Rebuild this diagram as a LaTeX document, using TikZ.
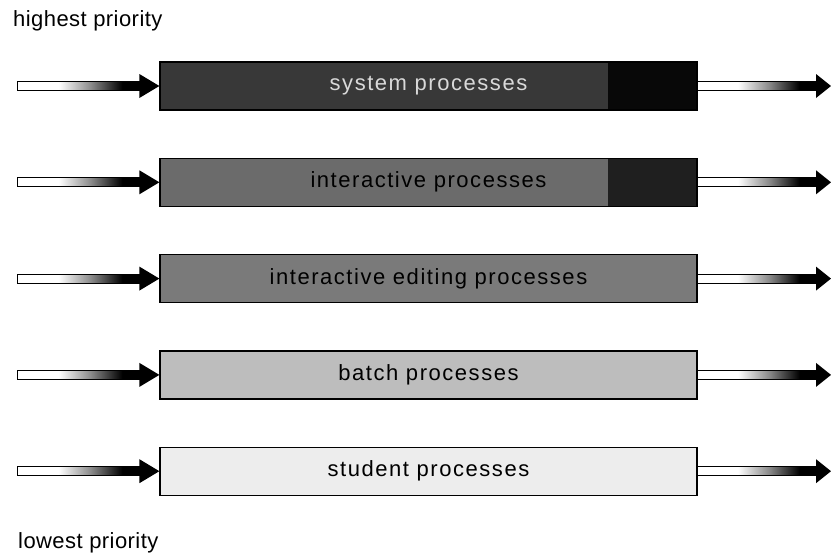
\documentclass[tikz,border=0pt]{standalone}
\usepackage{fontspec}
\setmainfont{Liberation Sans}[LetterSpace=2]
\newfontfamily\queuefont{Liberation Sans}[LetterSpace=7]
\usetikzlibrary{calc}
\pgfdeclarehorizontalshading{shaftfade}{100bp}{color(0bp)=(white); color(25bp)=(white); color(42bp)=(white); color(55bp)=(black!45); color(68bp)=(black); color(100bp)=(black)}
% shaft with fade, then solid head
\newcommand\qarrow[3]{%
  \shadedraw[shading=shaftfade, line width=1pt] ($(#1)+(0,-4.5)$) rectangle ($(#2)+(-#3,4.5)$);
  \fill ($(#2)+(-#3,-12)$) -- (#2) -- ($(#2)+(-#3,12)$) -- cycle;}

\begin{document}
\begin{tikzpicture}[x=1pt, y=-1pt,
    every node/.style={font=\fontsize{22}{26}\selectfont},
    queue/.style={draw, line width=1.2pt, minimum width=537pt, minimum height=48pt, inner sep=0pt,
      font=\fontsize{22}{26}\queuefont}]
  \useasboundingbox (0,0) rectangle (831,554);
  \node[anchor=base west, inner sep=0pt] (hi) at (13,27) {highest priority};
  \foreach \t/\fc/\dc/\tc [count=\i from 0] in
    {system processes/black!78/black!97/black!15,
     interactive processes/black!58/black!88/black,
     interactive editing processes/black!52/black!52/black,
     batch processes/black!26/black!26/black,
     student processes/black!7/black!7/black}
  {
    \pgfmathsetmacro\y{86+96.3*\i}
    \node[queue, fill=\fc, text=\tc,
      path picture={\fill[\dc] ($(path picture bounding box.north east)+(-89,0)$) rectangle (path picture bounding box.south east);}]
      (q\i) at (428.5,\y) {\t};
    \coordinate (in\i) at (17,\y);
    \coordinate (out\i) at (831,\y);
    \qarrow{in\i}{q\i.west}{20}
    \qarrow{q\i.east}{out\i}{15}
  }
  \node[anchor=base west, inner sep=0pt] (lo) at (18,548) {lowest priority};
\end{tikzpicture}
\end{document}
